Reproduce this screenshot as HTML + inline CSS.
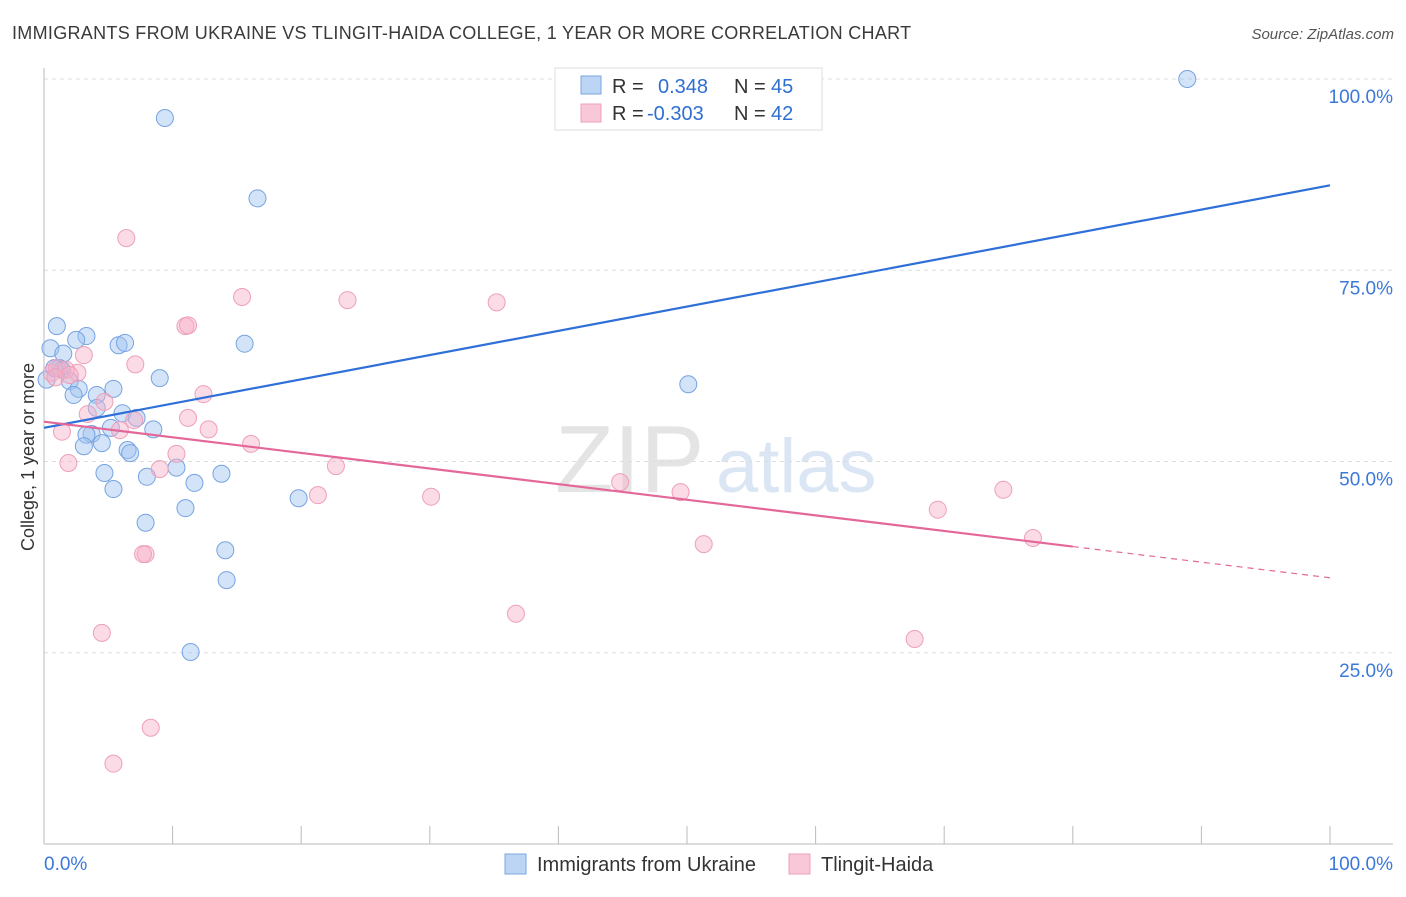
<!DOCTYPE html>
<html><head><meta charset="utf-8"><style>
body{margin:0;background:#fff;font-family:"Liberation Sans",sans-serif}
svg text{font-family:"Liberation Sans",sans-serif}
</style></head><body>
<svg id="chart" width="1406" height="892" viewBox="0 0 1406 892">
<text x="12" y="39" font-size="18" letter-spacing="0.3" fill="#3a3a3a">IMMIGRANTS FROM UKRAINE VS TLINGIT-HAIDA COLLEGE, 1 YEAR OR MORE CORRELATION CHART</text>
<text x="1394" y="39" font-size="15" fill="#555" text-anchor="end" font-style="italic">Source: ZipAtlas.com</text>
<g><text x="555" y="492" font-size="96" fill="#e4e4e4" font-family="Liberation Serif">ZIP</text><text x="716" y="492" font-size="76" fill="#dbe6f4">atlas</text></g>
<g id="grid"></g>
<g id="axes"></g>
<g id="marks"></g>
<g>
<rect x="555" y="68" width="267" height="62" fill="#fff" stroke="#ddd"/>
<rect x="581" y="76" width="20" height="18" fill="#bcd5f5" stroke="#7aa6e0"/>
<text x="612" y="93" font-size="20" fill="#333">R = </text><text x="658" y="93" font-size="20" fill="#2f6fd0">0.348</text>
<text x="734" y="93" font-size="20" fill="#333">N = </text><text x="771" y="93" font-size="20" fill="#2f6fd0">45</text>
<rect x="581" y="104" width="20" height="18" fill="#f9c8d8" stroke="#eea0b8"/>
<text x="612" y="120" font-size="20" fill="#333">R = </text><text x="647" y="120" font-size="20" fill="#2f6fd0">-0.303</text>
<text x="734" y="120" font-size="20" fill="#333">N = </text><text x="771" y="120" font-size="20" fill="#2f6fd0">42</text>
</g>
<text transform="translate(34,457) rotate(-90)" font-size="18" fill="#333" text-anchor="middle">College, 1 year or more</text>
<g>
<rect x="505" y="854" width="21" height="20" fill="#bcd5f5" stroke="#7aa6e0"/>
<text x="537" y="871" font-size="20" fill="#333">Immigrants from Ukraine</text>
<rect x="789" y="854" width="21" height="20" fill="#f9c8d8" stroke="#eea0b8"/>
<text x="821" y="871" font-size="20" fill="#333">Tlingit-Haida</text>
</g>
</svg>
<script>
const blueX=[9.4,16.6,88.9,1.0,3.3,2.5,5.8,6.3,15.6,0.5,1.5,9.0,50.1,1.2,1.4,2.0,2.7,5.4,2.3,4.1,6.1,7.2,4.1,5.2,8.5,3.7,3.3,3.1,4.5,6.5,6.7,10.3,4.7,8.0,13.8,11.7,5.4,19.8,11.0,7.9,14.1,14.2,11.4,0.2,0.8];
const blueY=[94.9,84.4,100,67.7,66.4,65.9,65.2,65.5,65.4,64.8,64.1,60.9,60.1,62.2,62.0,60.5,59.5,59.5,58.7,58.7,56.3,55.7,57.0,54.4,54.2,53.6,53.5,52.0,52.4,51.5,51.1,49.2,48.5,48.0,48.4,47.2,46.4,45.2,43.9,42.0,38.4,34.5,25.1,60.7,62.2];
const pinkX=[6.4,15.4,23.6,35.2,11.0,11.2,3.1,7.1,2.6,0.6,1.0,1.7,12.4,4.7,3.4,11.2,7.0,5.9,1.4,12.8,16.1,10.3,1.9,9.0,22.7,21.3,30.1,44.8,49.5,74.6,69.5,76.9,51.3,7.9,7.7,36.7,4.5,67.7,8.3,5.4,2.0,0.9];
const pinkY=[79.2,71.5,71.1,70.8,67.7,67.8,63.9,62.7,61.6,61.6,62.2,62.0,58.8,57.8,56.2,55.7,55.4,54.1,53.9,54.2,52.3,51.0,49.8,49.0,49.4,45.6,45.4,47.3,46.0,46.3,43.7,40.0,39.2,37.9,37.9,30.1,27.6,26.8,15.2,10.5,61.3,61.0];
const blueTrend=[54.4,0.317];
const pinkTrend=[55.2,-0.204];
const pinkSolidEnd=80;
const yTicks=[25,50,75,100];
const yTickLabels=["25.0%","50.0%","75.0%","100.0%"];
const xTicks=[0,10,20,30,40,50,60,70,80,90,100];

const NS="http://www.w3.org/2000/svg";
const sx=v=>44+v*12.86, sy=v=>844-v*7.65;
function mk(p,tag,attrs){const e=document.createElementNS(NS,tag);for(const k in attrs)e.setAttribute(k,attrs[k]);p.appendChild(e);return e;}
const grid=document.getElementById('grid'),axes=document.getElementById('axes'),marks=document.getElementById('marks');
yTicks.forEach((t,i)=>{
 const g=mk(grid,'line',{x1:44,x2:1393,y1:sy(t),y2:sy(t),stroke:'#ddd','stroke-dasharray':'4,4'});
 
 
 const l=mk(axes,'text',{x:1393,y:sy(t)+24,'font-size':19,fill:'#3b78d8','text-anchor':'end'});l.textContent=yTickLabels[i];
 
 
});
const ax=mk(axes,'line',{x1:44,x2:44,y1:68,y2:844,stroke:'#bbb'});


const bx=mk(axes,'line',{x1:44,x2:1393,y1:844,y2:844,stroke:'#bbb'});


xTicks.forEach(t=>{const e=mk(axes,'line',{x1:sx(t),x2:sx(t),y1:826,y2:844,stroke:'#bbb'});
 
 });
const x0=mk(axes,'text',{x:44,y:870,'font-size':19,fill:'#3b78d8'});x0.textContent='0.0%';


const x1=mk(axes,'text',{x:1393,y:870,'font-size':19,fill:'#3b78d8','text-anchor':'end'});x1.textContent='100.0%';


blueX.forEach((x,i)=>{const c=mk(marks,'circle',{cx:sx(x),cy:sy(blueY[i]),r:8.5,fill:'rgba(160,196,240,0.45)',stroke:'#76a3e2','stroke-width':1});
 
 });
pinkX.forEach((x,i)=>{const c=mk(marks,'circle',{cx:sx(x),cy:sy(pinkY[i]),r:8.5,fill:'rgba(246,176,200,0.45)',stroke:'#eea0b8','stroke-width':1});
 
 });
const bl=mk(marks,'line',{x1:sx(0),y1:sy(blueTrend[0]),x2:sx(100),y2:sy(blueTrend[0]+100*blueTrend[1]),stroke:'#2f6fd8','stroke-width':2.2});


const pl=mk(marks,'line',{x1:sx(0),y1:sy(pinkTrend[0]),x2:sx(pinkSolidEnd),y2:sy(pinkTrend[0]+pinkSolidEnd*pinkTrend[1]),stroke:'#e4679a','stroke-width':2.2});


const pd=mk(marks,'line',{x1:sx(pinkSolidEnd),y1:sy(pinkTrend[0]+pinkSolidEnd*pinkTrend[1]),x2:sx(100),y2:sy(pinkTrend[0]+100*pinkTrend[1]),stroke:'#e4679a','stroke-width':1.2,'stroke-dasharray':'6,5'});


</script>
</body></html>
